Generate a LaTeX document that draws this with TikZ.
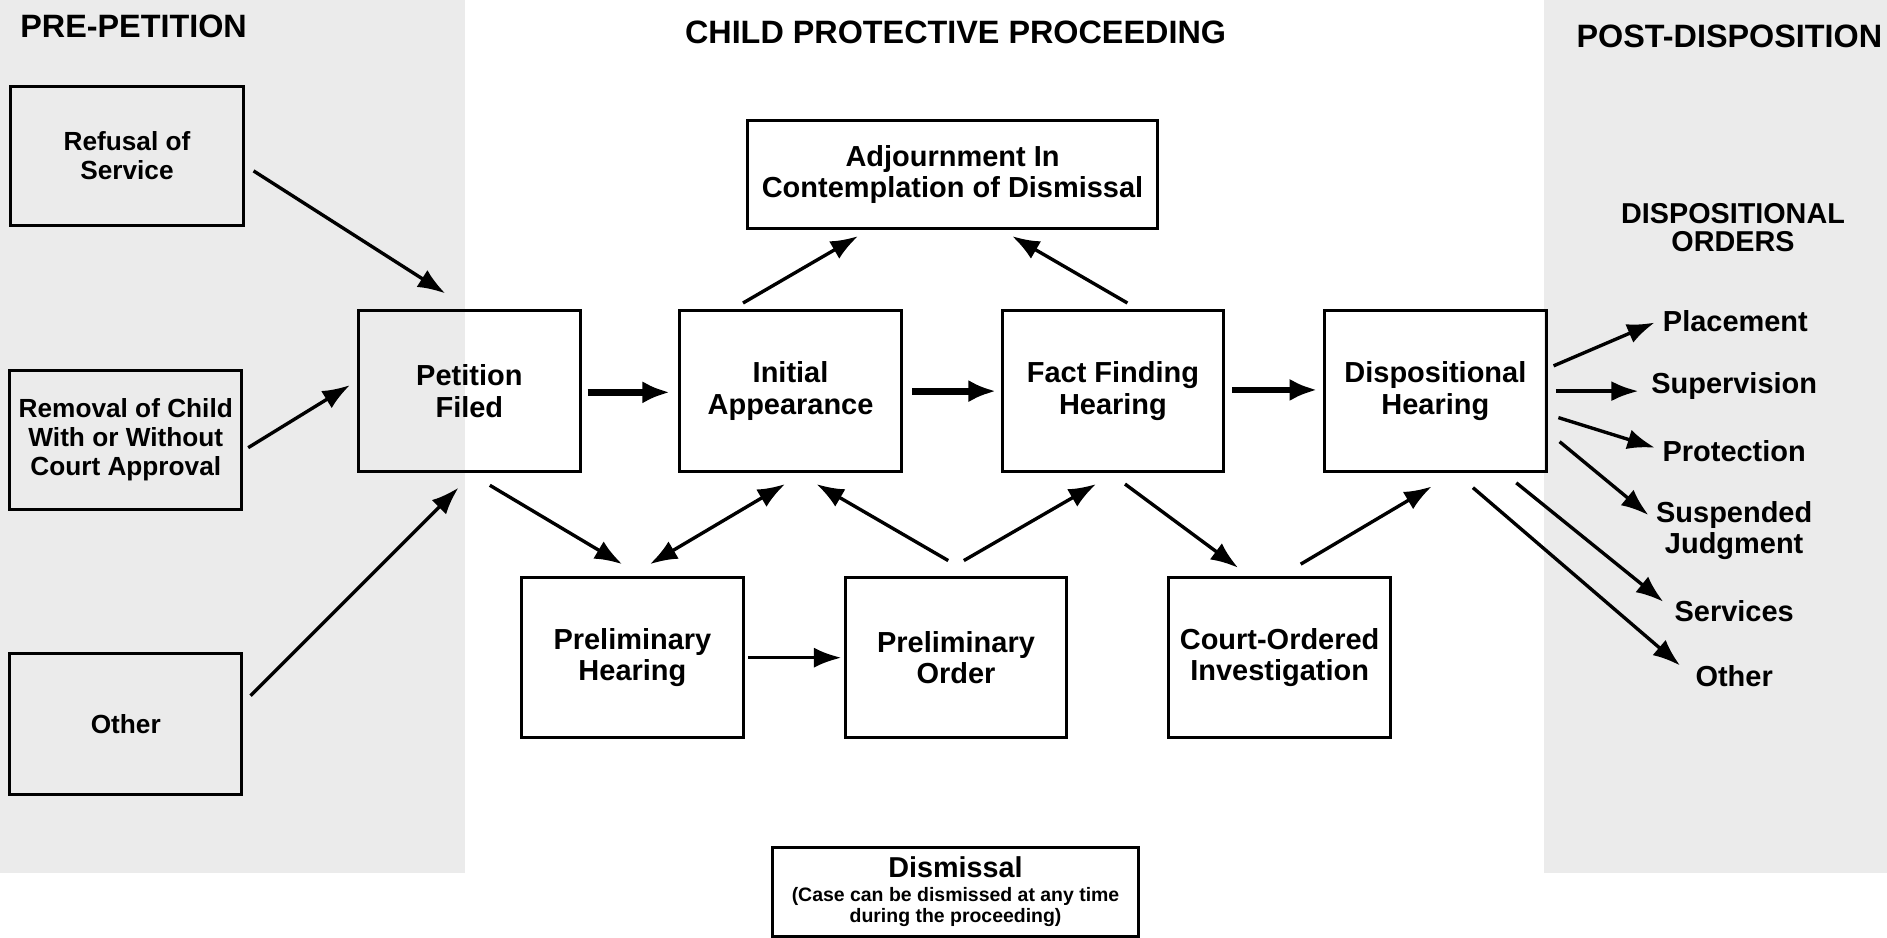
\documentclass[tikz,border=0pt]{standalone}
\usepackage{fontspec}
\setmainfont{Liberation Sans}
\usetikzlibrary{arrows.meta,positioning}
\tikzset{
	stage/.style={draw, line width=1.4pt, minimum width=3.68cm, minimum height=2.68cm, inner sep=0pt, align=center, font=\bfseries\fontsize{13.7}{14.8}\selectfont},
	source/.style={stage, minimum width=3.88cm, minimum height=2.3cm, font=\bfseries\fontsize{12.4}{13.6}\selectfont},
	order/.style={inner sep=0pt, align=center, font=\bfseries\fontsize{13.7}{14.8}\selectfont},
	heading/.style={inner sep=0pt, align=center, font=\bfseries\fontsize{15.3}{16}\selectfont},
	flow/.style={-{Latex[length=13pt,width=9.5pt]}, line width=1.6pt},
	bothflow/.style={{Latex[length=13pt,width=9.5pt]}-{Latex[length=13pt,width=9.5pt]}, line width=1.6pt},
	mainflow/.style={-{Latex[length=13pt,width=10.5pt]}, line width=3.2pt},
	speckle/.style={fill=black!8}
}

\begin{document}
\begin{tikzpicture}[x=0.02cm, y=-0.02cm]
	\useasboundingbox (0,0) rectangle (1568,779);
	% shaded side panels
	\fill[speckle] (0,0) rectangle (386,725);
	\fill[speckle] (1283,0) rectangle (1568,725);

	\node[heading] (pre) at (111,22) {PRE-PETITION};
	\node[heading] (cpp) at (794,27) {CHILD PROTECTIVE PROCEEDING};
	\node[heading] (post) at (1437,30) {POST-DISPOSITION};

	% pre-petition
	\node[source] (refusal) at (105.5,129.5) {Refusal of\\Service};
	\node[source, minimum width=3.86cm] (removal) at (104.5,365.5) {Removal of Child\\With or Without\\Court Approval};
	\node[source, minimum width=3.86cm, minimum height=2.34cm] (otherpre) at (104.5,601.5) {Other};

	% proceeding
	\node[stage] (petition) at (390,325) {Petition\\Filed};
	\node[stage, right=1.61cm of petition] (initial) {Initial\\Appearance};
	\node[stage, right=1.63cm of initial] (fact) {Fact Finding\\Hearing};
	\node[stage, right=1.63cm of fact] (disp) {Dispositional\\Hearing};
	\node[stage, minimum width=6.82cm, minimum height=1.8cm] (adjourn) at (791.5,145) {Adjournment In\\Contemplation of Dismissal};
	\node[stage, minimum height=2.66cm] (prelhear) at (525.5,546.5) {Preliminary\\Hearing};
	\node[stage, minimum height=2.66cm, right=1.65cm of prelhear] (prelorder) {Preliminary\\Order};
	\node[stage, minimum height=2.66cm, right=1.65cm of prelorder] (courtinv) {Court-Ordered\\Investigation};
	\node[stage, minimum width=6.08cm, minimum height=1.48cm, font=\bfseries\fontsize{9.2}{10.2}\selectfont] (dismissal) at (794,741) {{\fontsize{13.6}{14}\selectfont Dismissal}\\[1pt](Case can be dismissed at any time\\during the proceeding)};

	% post-disposition
	\node[order, font=\bfseries\fontsize{13.6}{13.5}\selectfont] (orders) at (1440,189) {DISPOSITIONAL\\ORDERS};
	\node[order] (placement) at (1442,267) {Placement};
	\node[order] (supervision) at (1441,321) {Supervision};
	\node[order] (protection) at (1441,375) {Protection};
	\node[order] (suspended) at (1441,441) {Suspended\\Judgment};
	\node[order] (services) at (1441,508) {Services};
	\node[order] (otherpost) at (1441,562) {Other};

	% connectors
	\draw[flow] ([shift={(7,12.5)}]refusal.east) -- ([shift={(-20,-13)}]petition.north);
	\draw[flow] ([shift={(4,6.5)}]removal.east) -- ([shift={(-6,-5)}]petition.west);
	\draw[flow] ([shift={(6,-23.5)}]otherpre.east) -- ([shift={(-9,12)}]petition.south);
	\draw[flow] ([shift={(17,10)}]petition.south) -- ([shift={(-8.5,-10)}]prelhear.north);
	\draw[bothflow] ([shift={(14.5,-10)}]prelhear.north) -- ([shift={(-4.5,9)}]initial.south);
	\draw[flow] ([shift={(-6.5,-13)}]prelorder.north) -- ([shift={(21.5,9)}]initial.south);
	\draw[flow] ([shift={(6.5,-13)}]prelorder.north) -- ([shift={(-14,9)}]fact.south);
	\draw[flow] ([shift={(3,0)}]prelhear.east) -- ([shift={(-2,0)}]prelorder.west);
	\draw[flow] ([shift={(10,9)}]fact.south) -- ([shift={(-34.5,-7)}]courtinv.north);
	\draw[flow] ([shift={(17.5,-10)}]courtinv.north) -- ([shift={(-3,11)}]disp.south);
	\draw[flow] ([shift={(-39.5,-5)}]initial.north) -- ([shift={(-78.5,5)}]adjourn.south);
	\draw[flow] ([shift={(12,-5)}]fact.north) -- ([shift={(49.5,5)}]adjourn.south);

	\draw[mainflow] ([shift={(5,1)}]petition.east) -- ([shift={(-7,1)}]initial.west);
	\draw[mainflow] ([shift={(8,0)}]initial.east) -- ([shift={(-4,0)}]fact.west);
	\draw[mainflow] ([shift={(6,-1)}]fact.east) -- ([shift={(-5,-1)}]disp.west);

	\draw[flow] ([shift={(5,-21)}]disp.east) -- ([shift={(-6.5,1)}]placement.west);
	\draw[flow, line width=2pt] ([shift={(7,0)}]disp.east) -- ([shift={(-10,4)}]supervision.west);
	\draw[flow] ([shift={(9,22)}]disp.east) -- ([shift={(-6,-3)}]protection.west);
	\draw[flow] ([shift={(10,42)}]disp.east) -- ([shift={(-6,-13)}]suspended.west);
	\draw[flow] ([shift={(-26,8)}]disp.south east) -- ([shift={(-9,-8)}]services.west);
	\draw[flow] ([shift={(-62,12)}]disp.south east) -- ([shift={(-12.5,-9)}]otherpost.west);
\end{tikzpicture}
\end{document}
